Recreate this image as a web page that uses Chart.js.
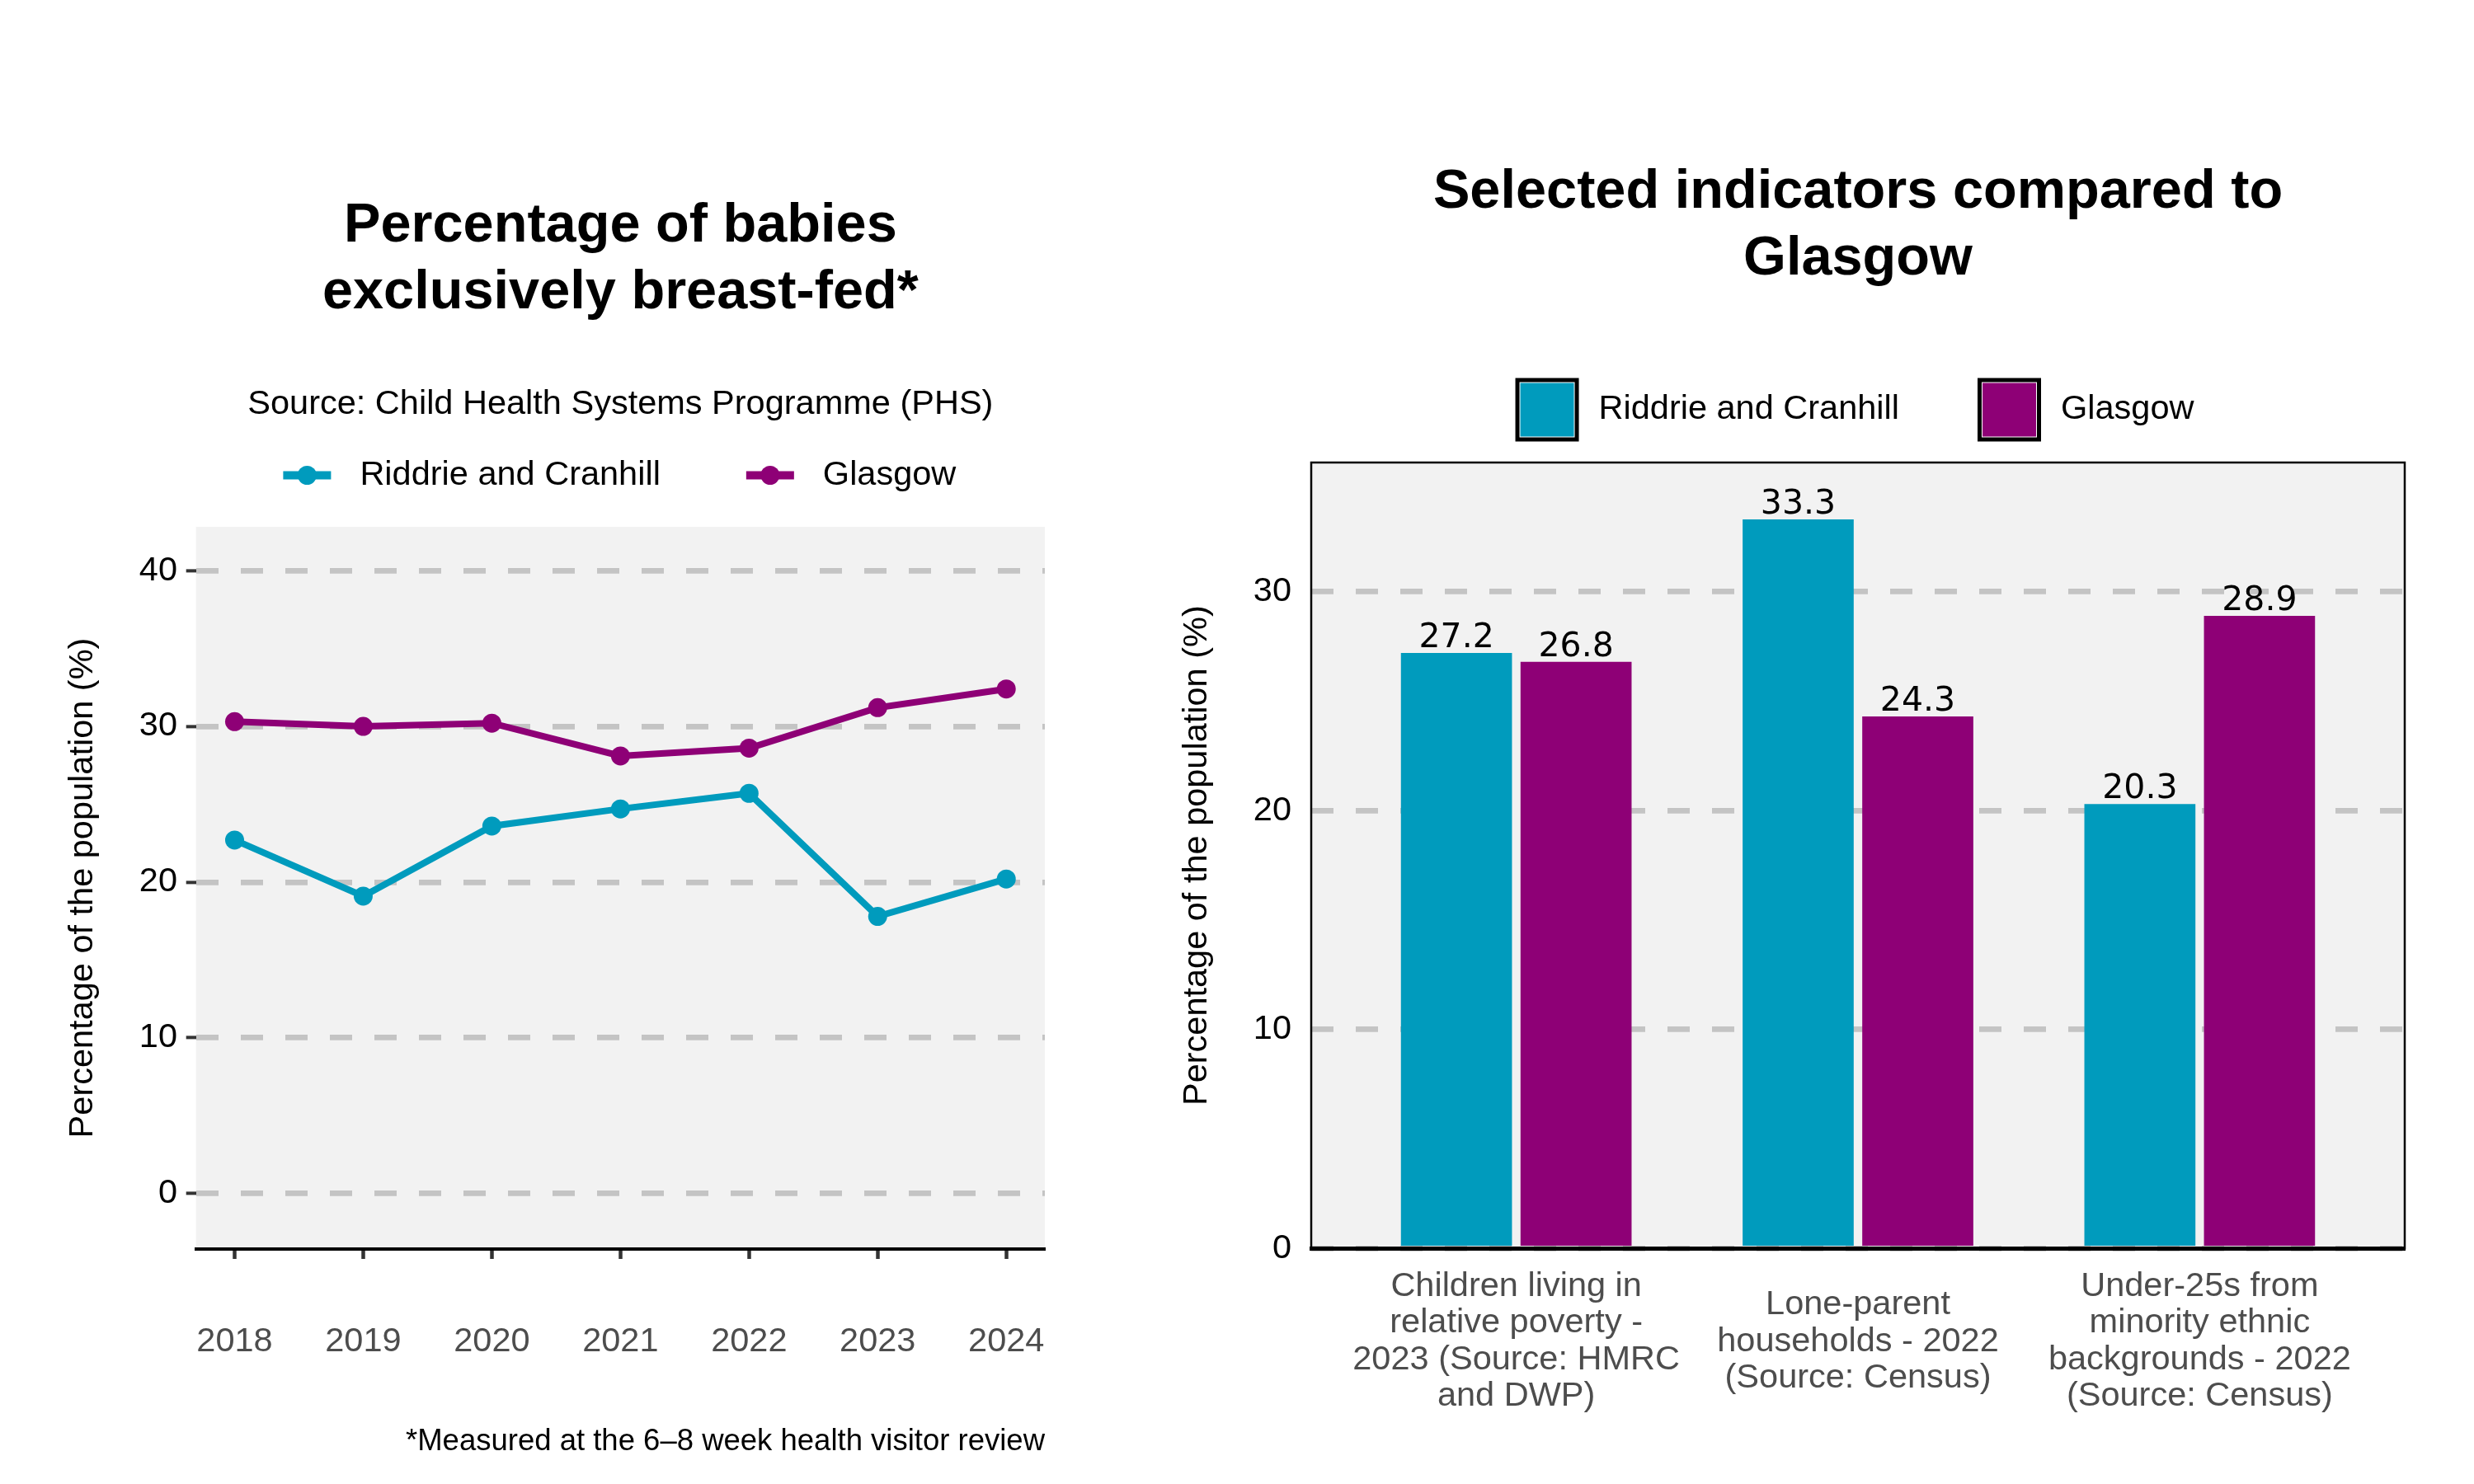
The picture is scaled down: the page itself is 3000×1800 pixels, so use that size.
<!DOCTYPE html>
<html>
<head>
<meta charset="utf-8">
<script src="https://cdn.jsdelivr.net/npm/chart.js@4.4.1/dist/chart.umd.min.js"></script>
<style>
html, body { margin: 0; padding: 0; background: #ffffff; }
body { width: 3000px; height: 1800px; position: relative; overflow: hidden; }
canvas { position: absolute; top: 0; }
#trend { left: 0; }
#indicators { left: 1380px; }
</style>
</head>
<body>
<canvas id="trend" width="1380" height="1800"></canvas>
<canvas id="indicators" width="1620" height="1800"></canvas>
<script>
// ---------- data ----------
const seriesNames = ['Riddrie and Cranhill', 'Glasgow'];

const years = [2018, 2019, 2020, 2021, 2022, 2023, 2024];
const riddrieTrend = [22.7, 19.1, 23.6, 24.7, 25.7, 17.8, 20.2];
const glasgowTrend = [30.3, 30.0, 30.2, 28.1, 28.6, 31.2, 32.4];
const trendTicks = [0, 10, 20, 30, 40];

const indicatorLabels = [
  ['Children living in', 'relative poverty -', '2023 (Source: HMRC', 'and DWP)'],
  ['Lone-parent', 'households - 2022', '(Source: Census)'],
  ['Under-25s from', 'minority ethnic', 'backgrounds - 2022', '(Source: Census)']
];
const riddrieIndicators = [27.2, 33.3, 20.3];
const glasgowIndicators = [26.8, 24.3, 28.9];
const indicatorTicks = [0, 10, 20, 30];

// ---------- style ----------
const TEAL = '#009BBD';
const PURPLE = '#8E0076';
const GRID = '#C4C4C4';
const FONT = "'Liberation Sans', Arial, Helvetica, sans-serif";
const TXT = 41.5;
Chart.defaults.font.family = FONT;
Chart.defaults.color = '#000000';

// ---------- plugins ----------
const panelBg = {
  id: 'panelBg',
  beforeDraw(chart) {
    const { ctx, chartArea: a } = chart;
    ctx.save();
    ctx.fillStyle = '#F2F2F2';
    ctx.fillRect(a.left, a.top, a.right - a.left, a.bottom - a.top);
    ctx.restore();
  }
};

const panelBorder = {
  id: 'panelBorder',
  afterDatasetsDraw(chart) {
    const { ctx, chartArea: a } = chart;
    ctx.save();
    ctx.strokeStyle = '#000000';
    ctx.lineWidth = 2.5;
    ctx.strokeRect(a.left, a.top, a.right - a.left, a.bottom - a.top);
    ctx.restore();
  }
};

const barValues = {
  id: 'barValues',
  afterDatasetsDraw(chart) {
    const ctx = chart.ctx;
    ctx.save();
    ctx.font = "41px 'DejaVu Sans', sans-serif";
    ctx.fillStyle = '#000000';
    ctx.textAlign = 'center';
    ctx.textBaseline = 'alphabetic';
    chart.data.datasets.forEach((ds, d) => {
      const meta = chart.getDatasetMeta(d);
      meta.data.forEach((bar, i) => {
        ctx.fillText(ds.data[i].y.toFixed(1), bar.x, bar.y - 7);
      });
    });
    ctx.restore();
  }
};

const customLegend = {
  id: 'customLegend',
  afterDraw(chart, args, opts) {
    const { ctx, chartArea: a } = chart;
    ctx.save();
    ctx.font = TXT + 'px ' + FONT;
    const items = chart.data.datasets.map(ds => ({
      label: ds.label,
      color: ds.backgroundColor,
      w: ctx.measureText(ds.label).width
    }));
    const total = items.reduce((s, it) => s + opts.textOffset + it.w, 0) + opts.itemGap * (items.length - 1);
    let x = (a.left + a.right) / 2 + opts.shift - total / 2;
    const y = a.top - opts.dy;
    items.forEach(it => {
      if (opts.kind === 'line') {
        ctx.strokeStyle = it.color;
        ctx.lineWidth = 10;
        ctx.beginPath();
        ctx.moveTo(x, y);
        ctx.lineTo(x + 58, y);
        ctx.stroke();
        ctx.fillStyle = it.color;
        ctx.beginPath();
        ctx.arc(x + 29, y, 11.5, 0, Math.PI * 2);
        ctx.fill();
      } else {
        ctx.fillStyle = '#000000';
        ctx.fillRect(x, y - 38.5, 77, 77);
        ctx.fillStyle = '#FFFFFF';
        ctx.fillRect(x + 5, y - 33.5, 67, 67);
        ctx.fillStyle = it.color;
        ctx.fillRect(x + 6, y - 32.5, 65, 65);
      }
      ctx.fillStyle = '#000000';
      ctx.textAlign = 'left';
      ctx.textBaseline = 'middle';
      ctx.fillText(it.label, x + opts.textOffset, y);
      x += opts.textOffset + it.w + opts.itemGap;
    });
    ctx.restore();
  }
};

// ---------- left chart: line ----------
new Chart(document.getElementById('trend'), {
  type: 'line',
  data: {
    datasets: [
      {
        label: seriesNames[0],
        data: years.map((yr, i) => ({ x: yr, y: riddrieTrend[i] })),
        borderColor: TEAL, backgroundColor: TEAL,
        borderWidth: 8, pointRadius: 11.5, pointBackgroundColor: TEAL,
        pointBorderWidth: 0, tension: 0
      },
      {
        label: seriesNames[1],
        data: years.map((yr, i) => ({ x: yr, y: glasgowTrend[i] })),
        borderColor: PURPLE, backgroundColor: PURPLE,
        borderWidth: 8, pointRadius: 11.5, pointBackgroundColor: PURPLE,
        pointBorderWidth: 0, tension: 0
      }
    ]
  },
  options: {
    responsive: false, animation: false, devicePixelRatio: 1,
    layout: { padding: { left: 0, right: 113, top: 0, bottom: 0 } },
    plugins: {
      legend: { display: false },
      tooltip: { enabled: false },
      title: {
        display: true, fullSize: false,
        text: ['Percentage of babies', 'exclusively breast-fed*'],
        color: '#000000',
        font: { size: 66.7, weight: 'bold', lineHeight: 81 / 66.7 },
        padding: { top: 234, bottom: 0 }
      },
      subtitle: {
        display: true, fullSize: false,
        text: 'Source: Child Health Systems Programme (PHS)',
        color: '#000000',
        font: { size: TXT, lineHeight: 1.2 },
        padding: { top: 70.1, bottom: 123.1 }
      },
      customLegend: { kind: 'line', textOffset: 93, itemGap: 104, dy: 62.5, shift: -1 }
    },
    scales: {
      x: {
        type: 'linear', min: 2017.7, max: 2024.3, offset: false,
        afterBuildTicks: s => { s.ticks = years.map(v => ({ value: v })); },
        afterFit: s => { s.height = 285; },
        ticks: {
          callback: v => String(v), color: '#4D4D4D',
          font: { size: TXT }, padding: 76.1, maxRotation: 0, autoSkip: false
        },
        grid: {
          display: true, drawOnChartArea: false, drawTicks: true,
          tickLength: 12, tickWidth: 4.5, tickColor: '#333333', color: '#333333', offset: false
        },
        border: { display: true, color: '#000000', width: 4 },
        title: {
          display: true, align: 'end',
          text: '*Measured at the 6\u20138 week health visitor review',
          color: '#000000', font: { size: 36.5 },
          padding: { top: 0, bottom: 29.1 }
        }
      },
      y: {
        type: 'linear', min: -3.557, max: 42.81,
        afterBuildTicks: s => { s.ticks = trendTicks.map(v => ({ value: v })); },
        afterFit: s => { s.width = 237.7; },
        ticks: { color: '#000000', font: { size: TXT }, padding: 10.7 },
        grid: {
          color: GRID, lineWidth: 6.75, drawTicks: true, tickLength: 12,
          tickWidth: 4, tickColor: '#333333', tickBorderDash: []
        },
        border: { display: false, dash: [27, 27] },
        title: {
          display: true, text: 'Percentage of the population (%)',
          color: '#000000', font: { size: TXT }, padding: { top: 75.7, bottom: 0 }
        }
      }
    }
  },
  plugins: [panelBg, customLegend]
});

// ---------- right chart: grouped bars ----------
new Chart(document.getElementById('indicators'), {
  type: 'bar',
  data: {
    datasets: [
      {
        label: seriesNames[0],
        data: indicatorLabels.map((_, i) => ({ x: i + 1, y: riddrieIndicators[i] })),
        backgroundColor: TEAL, borderWidth: 0,
        categoryPercentage: 0.7, barPercentage: 0.9286
      },
      {
        label: seriesNames[1],
        data: indicatorLabels.map((_, i) => ({ x: i + 1, y: glasgowIndicators[i] })),
        backgroundColor: PURPLE, borderWidth: 0,
        categoryPercentage: 0.7, barPercentage: 0.9286
      }
    ]
  },
  options: {
    responsive: false, animation: false, devicePixelRatio: 1,
    layout: { padding: { left: 0, right: 84, top: 0, bottom: 0 } },
    plugins: {
      legend: { display: false },
      tooltip: { enabled: false },
      title: {
        display: true, fullSize: false,
        text: ['Selected indicators compared to', 'Glasgow'],
        color: '#000000',
        font: { size: 66.7, weight: 'bold', lineHeight: 81 / 66.7 },
        padding: { top: 193.2, bottom: 205.8 }
      },
      customLegend: { kind: 'box', textOffset: 101, itemGap: 95, dy: 64, shift: -4 }
    },
    scales: {
      x: {
        type: 'linear', min: 0.4, max: 3.6, offset: false,
        afterBuildTicks: s => { s.ticks = indicatorLabels.map((_, i) => ({ value: i + 1 })); },
        afterFit: s => { s.height = 285.7; },
        ticks: {
          callback: v => indicatorLabels[Math.round(v) - 1],
          color: '#4D4D4D', font: { size: TXT, lineHeight: 44.5 / TXT },
          padding: 46.2, crossAlign: 'center', maxRotation: 0, autoSkip: false
        },
        grid: { display: false, drawTicks: false, offset: false },
        border: { display: true, color: '#000000', width: 5, z: 1 }
      },
      y: {
        type: 'linear', min: 0, max: 35.9,
        afterBuildTicks: s => { s.ticks = indicatorTicks.map(v => ({ value: v })); },
        afterFit: s => { s.width = 210; },
        ticks: { color: '#000000', font: { size: TXT }, padding: 24 },
        grid: { color: GRID, lineWidth: 6.75, drawTicks: false },
        border: { display: false, dash: [27, 27] },
        title: {
          display: true, text: 'Percentage of the population (%)',
          color: '#000000', font: { size: TXT }, padding: { top: 46.6, bottom: 0 }
        }
      }
    }
  },
  plugins: [panelBg, panelBorder, barValues, customLegend]
});
</script>
</body>
</html>
